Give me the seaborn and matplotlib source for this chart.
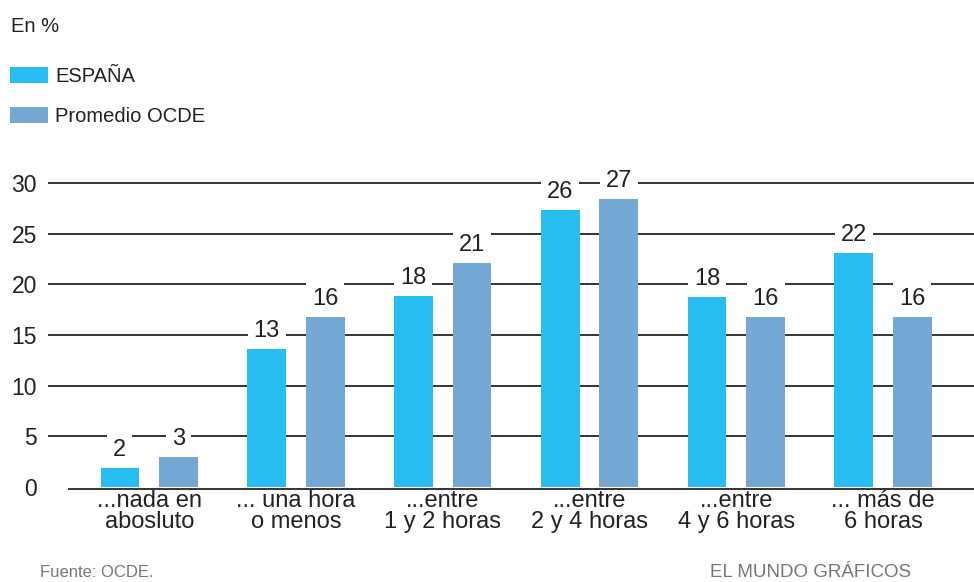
import pandas as pd
import matplotlib
matplotlib.use('Agg')
import matplotlib.pyplot as plt
import seaborn as sns

# datos (altura de barra, etiqueta publicada)
categorias = ['...nada en\nabosluto', '... una hora\no menos', '...entre\n1 y 2 horas',
              '...entre\n2 y 4 horas', '...entre\n4 y 6 horas', '... más de\n6 horas']
espana = [1.9, 13.6, 18.9, 27.4, 18.8, 23.1]
ocde = [3.0, 16.8, 22.1, 28.4, 16.8, 16.8]
etiq_espana = ['2', '13', '18', '26', '18', '22']
etiq_ocde = ['3', '16', '21', '27', '16', '16']
series = ['ESPAÑA', 'Promedio OCDE']
colores = ['#27BDF1', '#74A7D3']

df = pd.DataFrame({
    'categoria': categorias * 2,
    'valor': espana + ocde,
    'serie': [series[0]] * 6 + [series[1]] * 6,
})

sns.set_style('white')
plt.rcParams['font.family'] = ['Liberation Sans', 'DejaVu Sans']

fig = plt.figure(figsize=(9.74, 5.82), dpi=100)
ax = fig.add_axes([0.0493, 0.1598, 0.9507, 0.548])

sns.barplot(data=df, x='categoria', y='valor', hue='serie', palette=colores,
            width=0.8, gap=0.34, saturation=1, linewidth=0, ax=ax, zorder=3, legend=True)

# líneas de referencia
for v in [5, 10, 15, 20, 25, 30]:
    ax.axhline(v, color='#333333', lw=1.4, zorder=1)

ax.set_xlim(-0.69, 5.62)
ax.set_ylim(-0.2, 31.3)

# etiquetas de valor
for cont, etiq in zip(ax.containers, [etiq_espana, etiq_ocde]):
    for bar, t in zip(cont, etiq):
        ax.annotate(t, (bar.get_x() + bar.get_width() / 2, bar.get_height()),
                    xytext=(0, 5), textcoords='offset points', ha='center', va='bottom',
                    fontsize=17, color='#222222', zorder=4,
                    bbox=dict(boxstyle='square,pad=0.25', fc='white', ec='none'))

# ejes
for s in ['top', 'right', 'left']:
    ax.spines[s].set_visible(False)
ax.spines['bottom'].set_bounds(-0.55, 5.62)
ax.spines['bottom'].set_color('#333333')
ax.spines['bottom'].set_linewidth(1.4)

ax.set_yticks([0, 5, 10, 15, 20, 25, 30])
ax.tick_params(axis='y', length=0, labelsize=16.5, labelcolor='#222222', pad=8)

ax.set_xticks([i - 0.5 for i in range(7)])
ax.set_xticklabels([])
ax.set_xticks(range(6), minor=True)
ax.set_xticklabels(categorias, minor=True, fontsize=17, color='#222222', linespacing=0.9)
ax.tick_params(axis='x', which='major', direction='out', length=9, width=1.2, color='#333333')
ax.tick_params(axis='x', which='minor', length=0, pad=1)
ax.set_xlabel('')
ax.set_ylabel('')

# leyenda
sns.move_legend(ax, 'upper left', bbox_to_anchor=(0.010, 0.885), bbox_transform=fig.transFigure,
                frameon=False, title=None, fontsize=14.5, handlelength=1.9, handleheight=0.85,
                labelspacing=1.05, handletextpad=0.35, borderaxespad=0, borderpad=0)
for t in ax.get_legend().get_texts():
    t.set_color('#222222')

fig.text(0.011, 0.955, 'En %', fontsize=14.5, color='#222222', va='center')
fig.text(0.041, 0.017, 'Fuente: OCDE.', fontsize=12, color='#777777', va='center')
fig.text(0.729, 0.017, 'EL MUNDO GRÁFICOS', fontsize=13.5, color='#777777', va='center')

fig.savefig('out.png', dpi=100)
